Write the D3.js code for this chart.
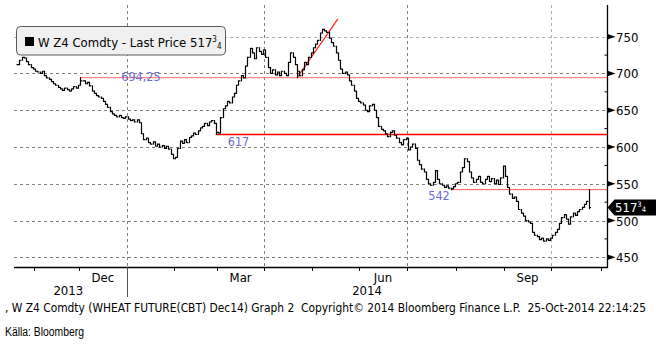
<!DOCTYPE html>
<html><head><meta charset="utf-8">
<script src="https://cdn.jsdelivr.net/npm/d3@7"></script>
<style>
html,body{margin:0;padding:0;background:#fff;}
svg{display:block;}
text{font-family:"DejaVu Sans Condensed","DejaVu Sans",sans-serif;}
</style></head>
<body>
<script>
// ---------- data ----------
const startDate = "2013-10-22";
const endDate = "2014-10-24";
const holidays = ["2013-11-28","2013-12-25","2014-01-01","2014-01-20","2014-02-17","2014-04-18","2014-05-26","2014-07-04","2014-09-01"];
// daily closes (one per trading day)
const closes = [
 712,718,722,721,716,712,708,706,703,
 702,700,703,697,694,692,689,686,684,681,679,
 677,680,678,676,679,682,680,684,690,690,
 686,688,683,676,673,670,668,666,662,658,
 654,648,645,643,641,643,640,639,641,638,
 636,637,634,637,633,618,610,612,606,604,
 607,601,604,600,602,598,601,597,590,584,
 586,598,608,605,610,606,613,615,619,617,
 622,626,628,632,629,634,636,632,620,619,
 640,652,656,662,660,668,673,684,690,697,
 694,710,722,734,728,720,735,730,726,732,
 722,708,700,705,698,702,697,703,700,697,
 715,728,722,712,703,697,705,715,712,722,
 728,735,740,745,755,760,758,756,748,742,
 737,728,718,706,700,702,698,690,684,676,
 666,662,660,657,650,648,656,658,650,640,
 628,624,622,618,614,620,622,616,612,606,
 603,610,612,596,600,604,598,582,576,570,
 566,556,550,548,552,568,556,550,548,545,
 547,544,543,546,550,552,566,572,584,580,
 566,558,552,556,560,552,550,556,560,553,
 557,550,555,549,558,574,560,545,536,530,
 532,526,515,510,506,500,498,496,484,480,
 478,474,476,472,475,473,476,480,484,488,
 496,504,508,502,495,505,510,507,512,515,
 518,522,526,517.75
];
const markedHighs = [[28, 694.25], [253, 542]];
const markedLows = [[88, 617], [124, 694.25], [192, 542], [253, 516]];
const levels = [
  {value: 694.25, fromIdx: 28, label: "694,25", color: "#ff6a6a", width: 1},
  {value: 617, fromIdx: 88, label: "617", color: "#ff0000", width: 1.4},
  {value: 542, fromIdx: 192, label: "542", color: "#ff5a5a", width: 1}
];
const trendFrom = [124, 694.25];
const trendTo = [142, 774];
const yTicks = [450, 500, 550, 600, 650, 700, 750];
const yMinor = [475, 525, 575, 625, 675, 725];
const monthLabels = [["2013-12","Dec"],["2014-03","Mar"],["2014-06","Jun"],["2014-09","Sep"]];
const years = ["2013","2014"];
const lastPrice = "517";
const legendText = "W Z4 Comdty - Last Price ";
const footer = ", W Z4 Comdty (WHEAT FUTURE(CBT) Dec14) Graph 2\u00a0 Copyright\u00a9 2014 Bloomberg Finance L.P.\u00a0 25-Oct-2014 22:14:25";
const source = "Källa: Bloomberg";

// ---------- trading calendar ----------
const fmt = d3.timeFormat("%Y-%m-%d");
const hol = new Set(holidays);
const dates = d3.timeDay.range(new Date(startDate+"T00:00"), d3.timeDay.offset(new Date(endDate+"T00:00"),1))
  .filter(d => d.getDay()!==0 && d.getDay()!==6 && !hol.has(fmt(d)));

const W = 656, H = 344;
const plotL = 14, plotR = 607.5, plotT = 5, plotB = 267.5;
const svg = d3.select("body").append("svg").attr("width", W).attr("height", H);

const n = closes.length;
const x = d3.scaleLinear().domain([0, n-1]).range([17, 588.5]);
const y = d3.scaleLinear().domain([450, 750]).range([257.3, 36.7]);

// month starts (first trading day)
const monthStarts = [];
let prevM = null;
dates.forEach((d,i)=>{ const m=d3.timeFormat("%Y-%m")(d); if(m!==prevM){ if(prevM!==null) monthStarts.push({m, i}); prevM=m; }});
monthStarts.push({m:"2014-11", i: n + 5});
const tickX = ms => x(ms.i - 0.5);

// gridlines
const grid = svg.append("g");
yTicks.forEach(v=>{
  grid.append("line").attr("x1",plotL).attr("x2",plotR).attr("y1",Math.round(y(v))+0.5).attr("y2",Math.round(y(v))+0.5)
    .attr("stroke", v===750 ? "#b0b0b0" : "#808080").attr("stroke-dasharray","3,3").attr("stroke-width",1);
});
monthStarts.filter(ms=>["01","04","07","10"].includes(ms.m.slice(5))).forEach(ms=>{
  const xx = Math.round(tickX(ms))+0.5;
  grid.append("line").attr("x1",xx).attr("x2",xx).attr("y1",plotT).attr("y2",plotB)
    .attr("stroke", ms.m.slice(5)==="10" ? "#b0b0b0" : "#808080").attr("stroke-dasharray","3,3");
});

// levels
levels.forEach(l=>{
  svg.append("line").attr("x1",x(l.fromIdx)).attr("x2",plotR).attr("y1",y(l.value)).attr("y2",y(l.value))
    .attr("stroke",l.color).attr("stroke-width",l.width);
});
// trend line
svg.append("line").attr("x1",x(trendFrom[0])).attr("y1",y(trendFrom[1])).attr("x2",x(trendTo[0])).attr("y2",y(trendTo[1]))
  .attr("stroke","#ff2020").attr("stroke-width",1.2);

// price bars
const hiMap = new Map(markedHighs), loMap = new Map(markedLows);
let p = "";
closes.forEach((c,i)=>{
  const o = i===0 ? c : closes[i-1];
  let hi = Math.max(o,c), lo = Math.min(o,c);
  if(hiMap.has(i)) hi = Math.max(hi, hiMap.get(i));
  if(loMap.has(i)) lo = Math.min(lo, loMap.get(i));
  const xx = Math.round(x(i))+0.5;
  p += `M${xx},${y(hi)-0.5}V${y(lo)+0.5}M${xx-1},${y(o)}H${xx}M${xx},${y(c)}H${xx+1.5}`;
});
svg.append("path").attr("d",p).attr("fill","none").attr("stroke","#000").attr("stroke-width",1.2);

// level labels
const lab = svg.append("g").attr("font-size",12.5).attr("fill","#6b6bd6");
lab.append("text").attr("x",x(levels[0].fromIdx)+41).attr("y",y(levels[0].value)+3.5).text(levels[0].label);
lab.append("text").attr("x",x(levels[1].fromIdx)+12).attr("y",y(levels[1].value)+12).text(levels[1].label);
lab.append("text").attr("x",x(levels[2].fromIdx)-1).attr("y",y(levels[2].value)+10).attr("text-anchor","end").text(levels[2].label);

// axes lines
svg.append("line").attr("x1",plotL).attr("x2",plotR+0.5).attr("y1",plotB).attr("y2",plotB).attr("stroke","#000").attr("stroke-width",1.3);
svg.append("line").attr("x1",plotR).attr("x2",plotR).attr("y1",plotT).attr("y2",plotB).attr("stroke","#000").attr("stroke-width",1.3);

// y ticks + labels
yTicks.forEach(v=>{
  const yy = y(v);
  svg.append("path").attr("d",`M${plotR},${yy-2.8}L${plotR+8},${yy}L${plotR},${yy+2.8}Z`).attr("fill","#000");
  svg.append("text").attr("x",616).attr("y",yy+5).attr("font-size",13).attr("fill","#000").text(v);
});
yMinor.forEach(v=>{
  svg.append("line").attr("x1",plotR-3).attr("x2",plotR).attr("y1",y(v)).attr("y2",y(v)).attr("stroke","#000");
});

// x ticks
monthStarts.forEach(ms=>{
  const xx = Math.round(tickX(ms))+0.5;
  const isYear = ms.m.slice(5)==="01";
  svg.append("line").attr("x1",xx).attr("x2",xx).attr("y1",plotB).attr("y2", isYear ? 297 : 271).attr("stroke", isYear ? "#555" : "#000");
});
const msMap = new Map(monthStarts.map((d,k)=>[d.m,k]));
monthLabels.forEach(([m,t])=>{
  const k = msMap.get(m);
  const cx = (tickX(monthStarts[k]) + tickX(monthStarts[k+1]))/2;
  svg.append("text").attr("x",cx).attr("y",281.5).attr("text-anchor","middle").attr("font-size",13).text(t);
});
const jan = monthStarts[msMap.get("2014-01")];
svg.append("text").attr("x",(plotL+tickX(jan))/2-2).attr("y",295).attr("text-anchor","middle").attr("font-size",13).text(years[0]);
svg.append("text").attr("x",(tickX(jan)+plotR)/2).attr("y",295).attr("text-anchor","middle").attr("font-size",13).text(years[1]);

// last price tag
const ly = y(closes[n-1]);
svg.append("path").attr("d",`M${plotR},${ly}L${plotR+7},${ly-8}H${W}V${ly+8}H${plotR+7}Z`).attr("fill","#000");
const lt = svg.append("text").attr("x",615).attr("y",ly+4.5).attr("fill","#fff").attr("font-size",13);
lt.append("tspan").text(lastPrice);
lt.append("tspan").attr("font-size",7.5).attr("dy",-5).text("3");
lt.append("tspan").attr("font-size",7.5).attr("dy",5.5).text("4");

// legend
svg.append("rect").attr("x",16.5).attr("y",26.5).attr("width",209).attr("height",28.5).attr("rx",4)
  .attr("fill","#f0f0f0").attr("stroke","#5a5a5a");
svg.append("rect").attr("x",25).attr("y",37).attr("width",9).attr("height",9).attr("fill","#000");
const lg = svg.append("text").attr("x",38).attr("y",46.5).attr("font-size",13).attr("fill","#000");
lg.append("tspan").text(legendText + lastPrice);
lg.append("tspan").attr("font-size",8).attr("dy",-5).text("3");
lg.append("tspan").attr("font-size",8).attr("dy",7).text("4");

// footer
svg.append("text").attr("x",5).attr("y",311.5).attr("font-size",12).attr("textLength",641).attr("lengthAdjust","spacingAndGlyphs").text(footer);
svg.append("text").attr("x",5).attr("y",336).attr("font-size",12).style("font-family","'Liberation Sans Narrow','Liberation Sans',sans-serif")
  .attr("textLength",79).attr("lengthAdjust","spacingAndGlyphs").text(source);
</script>
</body></html>
